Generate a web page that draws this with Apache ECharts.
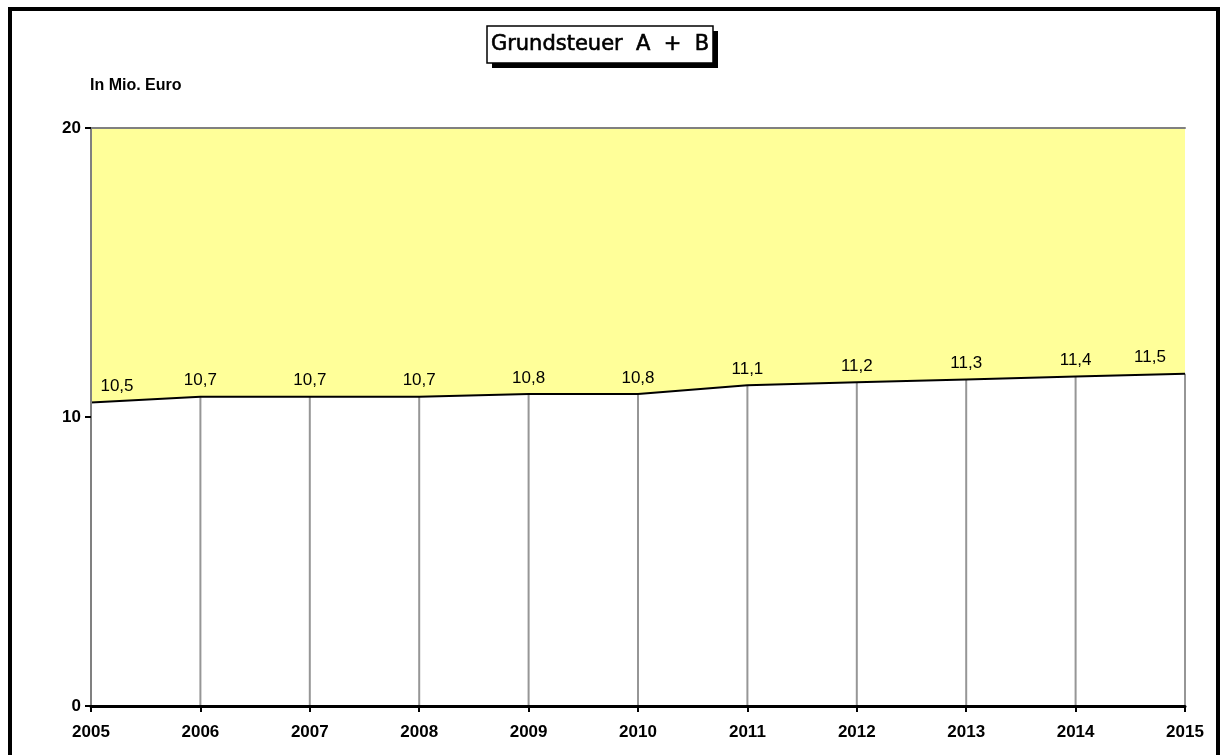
<!DOCTYPE html>
<html>
<head>
<meta charset="utf-8">
<script src="https://cdn.jsdelivr.net/npm/echarts@6/dist/echarts.min.js"></script>
<style>
html,body{margin:0;padding:0;background:#fff;}
#chart{width:1225px;height:755px;}
</style>
</head>
<body>
<div id="chart"></div>
<script>
const years = ['2005','2006','2007','2008','2009','2010','2011','2012','2013','2014','2015'];
const values = [10.5, 10.7, 10.7, 10.7, 10.8, 10.8, 11.1, 11.2, 11.3, 11.4, 11.5];
const yTicks = [0, 10, 20];
const titleText = 'Grundsteuer  A  +  B';
const unitText = 'In Mio. Euro';

const chart = echarts.init(document.getElementById('chart'), null, {renderer: 'canvas'});
const n = values.length;
const labelData = values.map((v, i) => {
  const item = {value: v};
  if (i === 0) item.label = {offset: [26, 0]};
  if (i === n - 1) item.label = {offset: [-35, 0]};
  return item;
});

chart.setOption({
  animation: false,
  backgroundColor: '#ffffff',
  graphic: [
    {
      type: 'rect',
      shape: {x: 10, y: 9, width: 1208, height: 780},
      style: {fill: 'none', stroke: '#000', lineWidth: 4},
      z: 100
    },
    {
      type: 'rect',
      shape: {x: 492, y: 31, width: 226, height: 37},
      style: {fill: '#000'},
      z: 10
    },
    {
      type: 'rect',
      shape: {x: 487, y: 26, width: 226, height: 37},
      style: {fill: '#fff', stroke: '#000', lineWidth: 1.5},
      z: 11
    },
    {
      type: 'text',
      x: 600,
      y: 44.5,
      style: {
        text: titleText,
        font: '21px "DejaVu Sans"',
        fill: '#000',
        stroke: '#000',
        lineWidth: 0.6,
        align: 'center',
        verticalAlign: 'middle'
      },
      z: 12
    },
    {
      type: 'text',
      left: 90,
      top: 78,
      style: {text: unitText, font: 'bold 16px "Liberation Sans", Arial', fill: '#000'}
    }
  ],
  grid: {
    left: 91, right: 40, top: 128, bottom: 49,
    show: true,
    backgroundColor: '#FFFF99',
    borderWidth: 0
  },
  xAxis: [
    {
      type: 'category',
      data: years,
      boundaryGap: false,
      axisLine: {show: true, lineStyle: {color: '#000', width: 3}},
      axisTick: {show: true, length: 6, lineStyle: {color: '#000', width: 2}},
      axisLabel: {
        color: '#000', fontFamily: '"Liberation Sans", Arial', fontWeight: 'bold',
        fontSize: 17, margin: 18, showMinLabel: true, showMaxLabel: true, interval: 0
      },
      splitLine: {show: false},
      z: 5
    },
    {
      type: 'category',
      data: years,
      boundaryGap: false,
      position: 'top',
      axisLine: {show: true, lineStyle: {color: '#808080', width: 2}},
      axisTick: {show: false},
      axisLabel: {show: false},
      splitLine: {show: false}
    }
  ],
  yAxis: {
    type: 'value',
    min: yTicks[0],
    max: yTicks[yTicks.length - 1],
    interval: 10,
    axisLine: {show: true, lineStyle: {color: '#808080', width: 2}},
    axisTick: {show: true, length: 6, lineStyle: {color: '#000', width: 2}},
    axisLabel: {
      color: '#000', fontFamily: '"Liberation Sans", Arial', fontWeight: 'bold',
      fontSize: 17, margin: 10
    },
    splitLine: {show: false},
    z: 4
  },
  series: [
    {
      type: 'line',
      data: values,
      symbol: 'none',
      lineStyle: {width: 0},
      areaStyle: {color: '#ffffff', opacity: 1, origin: 'start'},
      z: 1,
      silent: true
    },
    {
      type: 'bar',
      data: values,
      barWidth: 2,
      itemStyle: {color: '#969696'},
      z: 2,
      silent: true
    },
    {
      type: 'line',
      data: labelData,
      symbol: 'circle',
      symbolSize: 1,
      showSymbol: true,
      itemStyle: {color: 'rgba(0,0,0,0)'},
      lineStyle: {color: '#000', width: 2},
      label: {
        show: true,
        position: 'top',
        distance: 7,
        color: '#000',
        fontFamily: '"Liberation Sans", Arial',
        fontSize: 17,
        formatter: p => String(p.value).replace('.', ',')
      },
      z: 3
    }
  ]
});
</script>
</body>
</html>
